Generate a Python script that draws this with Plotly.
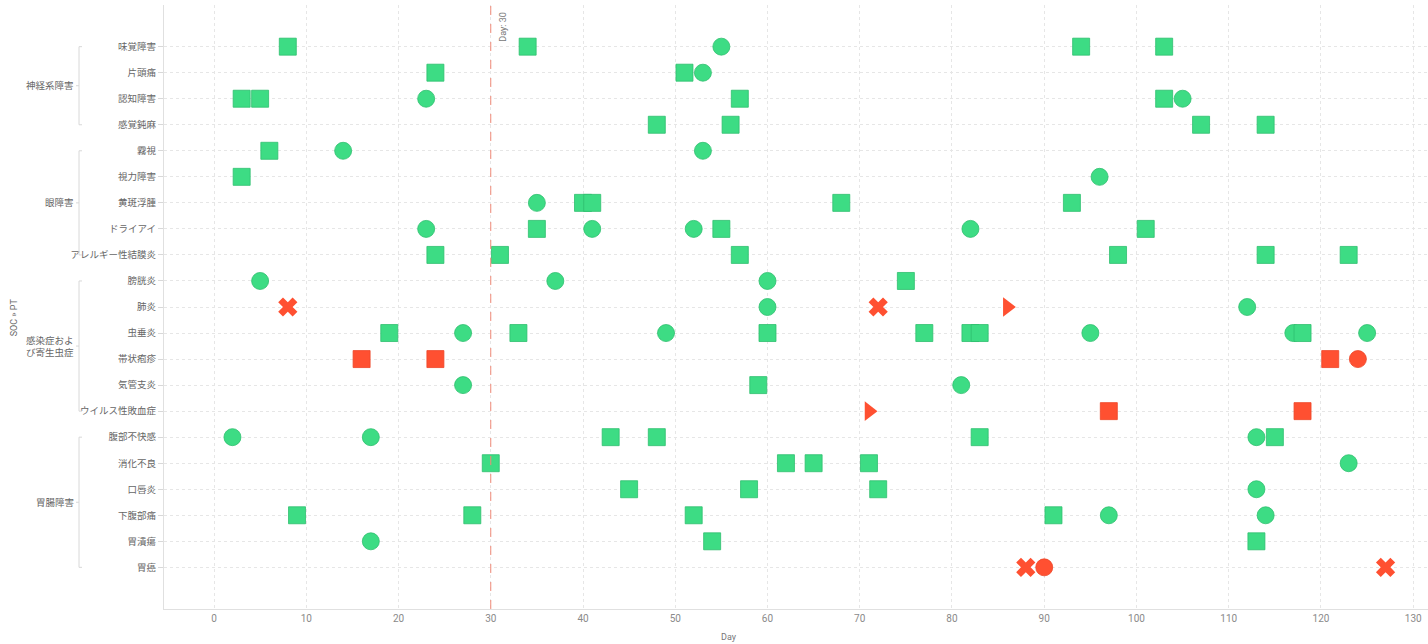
import plotly.graph_objects as go

# ---------------- data ----------------
pts = ["味覚障害", "片頭痛", "認知障害", "感覚鈍麻",
       "霧視", "視力障害", "黄斑浮腫", "ドライアイ", "アレルギー性結膜炎",
       "膀胱炎", "肺炎", "虫垂炎", "帯状疱疹", "気管支炎", "ウイルス性敗血症",
       "腹部不快感", "消化不良", "口唇炎", "下腹部痛", "胃潰瘍", "胃癌"]
socs = ["神経系障害", "眼障害", "感染症およ<br>び寄生虫症", "胃腸障害"]
soc_sizes = [4, 5, 6, 6]

green_square = {
    "味覚障害": [8, 34, 94, 103],
    "片頭痛": [24, 51],
    "認知障害": [3, 5, 57, 103],
    "感覚鈍麻": [48, 56, 107, 114],
    "霧視": [6],
    "視力障害": [3],
    "黄斑浮腫": [40, 41, 68, 93],
    "ドライアイ": [35, 55, 101],
    "アレルギー性結膜炎": [24, 31, 57, 98, 114, 123],
    "膀胱炎": [75],
    "虫垂炎": [19, 33, 60, 77, 82, 83, 118],
    "気管支炎": [59],
    "腹部不快感": [43, 48, 83, 115],
    "消化不良": [30, 62, 65, 71],
    "口唇炎": [45, 58, 72],
    "下腹部痛": [9, 28, 52, 91],
    "胃潰瘍": [54, 113],
}
green_circle = {
    "味覚障害": [55],
    "片頭痛": [53],
    "認知障害": [23, 105],
    "霧視": [14, 53],
    "視力障害": [96],
    "黄斑浮腫": [35],
    "ドライアイ": [23, 41, 52, 82],
    "膀胱炎": [5, 37, 60],
    "肺炎": [60, 112],
    "虫垂炎": [27, 49, 95, 117, 125],
    "気管支炎": [27, 81],
    "腹部不快感": [2, 17, 113],
    "消化不良": [123],
    "口唇炎": [113],
    "下腹部痛": [97, 114],
    "胃潰瘍": [17],
}
red_square = {"帯状疱疹": [16, 24, 121], "ウイルス性敗血症": [97, 118]}
red_circle = {"帯状疱疹": [124], "胃癌": [90]}
red_x = {"肺炎": [8, 72], "胃癌": [88, 127]}
red_triangle = {"肺炎": [86], "ウイルス性敗血症": [71]}

ref_day = 30

GREEN = "#3ddc84"
GREEN_LINE = "#2fbf6e"
RED = "#ff5031"
RED_LINE = "#ee4527"
FONT = "Roboto, 'Noto Sans CJK JP', sans-serif"


def flatten(d):
    xs, ys = [], []
    for pt in pts:
        for day in d.get(pt, []):
            xs.append(day)
            ys.append(pt)
    return xs, ys


fig = go.Figure()
series = [
    (green_circle, "circle", GREEN, GREEN_LINE),
    (green_square, "square", GREEN, GREEN_LINE),
    (red_circle, "circle", RED, RED_LINE),
    (red_square, "square", RED, RED_LINE),
    (red_x, "x", RED, RED_LINE),
    (red_triangle, "triangle-right", RED, RED_LINE),
]
for d, sym, col, lcol in series:
    xs, ys = flatten(d)
    fig.add_trace(go.Scatter(
        x=xs, y=ys, mode="markers",
        marker=dict(symbol=sym, size=17, color=col,
                    line=dict(color=lcol, width=0.8 if sym in ("circle", "square") else 0)),
        showlegend=False, hoverinfo="x+y"))

n = len(pts)
fig.update_layout(
    width=1428, height=644,
    margin=dict(l=164, r=0, t=5, b=35),
    paper_bgcolor="white", plot_bgcolor="white",
    font=dict(family=FONT, size=10, color="#666"),
    xaxis=dict(range=[-5.42, 131.6], dtick=10, tick0=0, automargin=False,
               showgrid=True, gridcolor="#e6e6e6", griddash="dot", gridwidth=1,
               zeroline=False, showline=True, linecolor="#e0e0e0", linewidth=1,
               ticks="", tickfont=dict(size=10, color="#8a8a8a")),
    yaxis=dict(type="category", categoryorder="array", categoryarray=pts,
               range=[n - 1 + 1.6, -1.6], automargin=False,
               showgrid=True, gridcolor="#e6e6e6", griddash="dot", gridwidth=1,
               zeroline=False, showline=True, linecolor="#e0e0e0", linewidth=1,
               ticks="outside", ticklen=5, tickcolor="#d8d8d8",
               tickfont=dict(size=9.5, color="#666")),
)

# reference vertical line
fig.add_shape(type="line", xref="x", yref="paper", x0=ref_day, x1=ref_day, y0=0, y1=1,
              line=dict(color="#f08a78", width=1, dash="dash"))
fig.add_annotation(x=ref_day, xref="x", y=1, yref="paper", text=f"Day: {ref_day}",
                   textangle=-90, showarrow=False, xanchor="left", yanchor="top",
                   xshift=5, yshift=-5, font=dict(size=9, color="#777"))

# SOC group brackets and labels
start = 0
for soc, size in zip(socs, soc_sizes):
    top, bot = start, start + size - 1
    mid = (top + bot) / 2
    fig.add_shape(type="line", xref="paper", yref="y", xsizemode="pixel", xanchor=0,
                  x0=-85, x1=-85, y0=top, y1=bot, line=dict(color="#d8d8d8", width=1))
    for yy in (top, bot):
        fig.add_shape(type="line", xref="paper", yref="y", xsizemode="pixel", xanchor=0,
                      x0=-85, x1=-82, y0=yy, y1=yy, line=dict(color="#d8d8d8", width=1))
    fig.add_shape(type="line", xref="paper", yref="y", xsizemode="pixel", xanchor=0,
                  x0=-88, x1=-85, y0=mid, y1=mid, line=dict(color="#d8d8d8", width=1))
    fig.add_annotation(x=0, xref="paper", y=mid, yref="y", text=soc, showarrow=False,
                       xanchor="right", yanchor="middle", xshift=-88, align="center",
                       font=dict(size=9.5, color="#666"))
    start += size

# axis titles
fig.add_annotation(x=0, xref="paper", y=0.483, yref="paper", text="SOC » PT",
                   textangle=-90, showarrow=False, xshift=-157,
                   font=dict(size=9, color="#666"))
fig.add_annotation(x=0.447, xref="paper", y=0, yref="paper", text="Day",
                   showarrow=False, yanchor="top", yshift=-21,
                   font=dict(size=9, color="#777"))

fig.write_html("out.html", post_script="document.body.style.margin='0';",
               config={"displayModeBar": False})
